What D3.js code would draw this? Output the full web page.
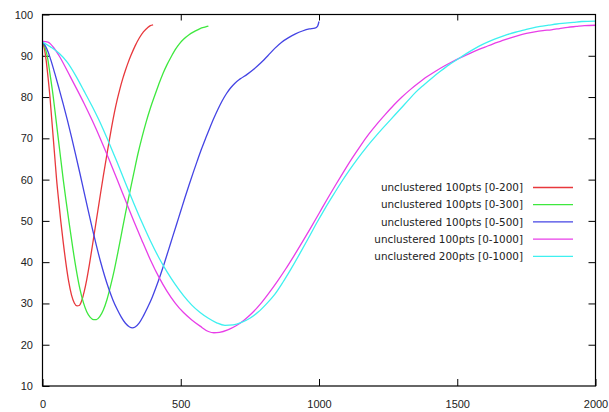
<!DOCTYPE html>
<html>
<head>
<meta charset="utf-8">
<script src="https://cdn.jsdelivr.net/npm/d3@7"></script>
<style>
  body { margin: 0; background: #fff; }
  svg { display: block; font-family: "DejaVu Sans", sans-serif; }
  .axis text { font-size: 11px; fill: #222; }
  .axis line { stroke: #000; }
  .legend text { font-size: 10.4px; fill: #222; }
</style>
</head>
<body>
<div id="chart"></div>
<script>
// series as [x, y]
const red = [[0,93.3],[6,92],[13,89],[20,84.8],[27,80],[33,75],[39,70],[45,65],[51,60],[58,55.2],[66,50],[75,44.8],[85,39.6],[95,35.2],[105,32],[115,30.1],[125,29.4],[133,29.5],[142,30.7],[151,32.9],[160,35.8],[170,39.6],[180,43.8],[190,48.1],[200,52.4],[210,56.7],[220,60.9],[230,64.9],[240,68.9],[250,72.7],[260,76.2],[270,79.3],[280,82],[290,84.4],[300,86.5],[310,88.4],[320,90.1],[335,92.4],[350,94.3],[365,95.8],[380,96.8],[390,97.3],[400,97.5]];
const green = [[0,93.3],[8,92.2],[17,90],[28,85.2],[39,80],[48,75],[57,70],[66,65],[75,60],[86,54.5],[97,49.2],[110,43.2],[122,38.2],[135,33.6],[148,30.2],[160,28],[172,26.7],[185,26.1],[195,26.1],[207,26.8],[220,28.4],[233,30.9],[246,34.2],[260,38.2],[273,42.5],[286,47],[300,51.8],[315,56.7],[330,61.5],[345,66.2],[360,70.3],[375,74],[390,77.3],[405,80.2],[420,83],[435,85.6],[450,87.8],[465,89.7],[480,91.5],[495,92.9],[510,94],[530,95.1],[550,95.9],[570,96.6],[590,97],[600,97.2]];
const blue = [[0,93.3],[10,92.4],[20,91],[30,89],[45,85.6],[60,82],[75,78.3],[90,74.4],[105,70.3],[120,66],[135,61.6],[150,57.1],[165,52.6],[180,48.2],[195,44],[210,40.1],[225,36.6],[240,33.5],[255,30.8],[270,28.6],[285,26.7],[300,25.2],[315,24.3],[325,24.1],[335,24.3],[350,25.3],[365,27],[380,29],[395,31.2],[410,33.8],[425,36.6],[440,39.6],[455,42.8],[470,46],[485,49.2],[500,52.4],[515,55.6],[530,58.7],[545,61.7],[560,64.6],[575,67.4],[590,70],[605,72.5],[620,74.9],[635,77.1],[650,79.1],[665,80.8],[680,82.2],[695,83.3],[715,84.4],[740,85.5],[765,86.8],[790,88.3],[815,90],[840,91.8],[865,93.3],[890,94.4],[915,95.3],[940,96],[965,96.5],[985,96.7],[995,97.2],[1000,98.3]];
const magenta = [[0,93.5],[20,93.3],[40,92],[60,90],[80,87.6],[100,85],[125,81.8],[150,78.5],[180,74.3],[210,69.8],[240,65],[270,60],[300,55],[330,50],[360,45.2],[390,40.6],[420,36.5],[450,33],[480,30.1],[510,27.8],[540,26],[570,24.5],[600,23.2],[620,22.9],[640,23],[670,23.6],[700,24.6],[730,26],[760,27.8],[790,30],[820,32.6],[850,35.4],[880,38.4],[910,41.6],[940,44.9],[970,48.3],[1000,51.8],[1030,55.3],[1060,58.7],[1090,62],[1120,65.2],[1150,68.2],[1180,71],[1210,73.5],[1240,75.8],[1270,78],[1300,80],[1330,81.8],[1360,83.4],[1390,84.9],[1420,86.2],[1450,87.4],[1480,88.5],[1510,89.5],[1540,90.4],[1570,91.3],[1600,92.1],[1630,92.9],[1660,93.6],[1690,94.3],[1720,94.9],[1750,95.4],[1780,95.8],[1810,96.1],[1840,96.3],[1870,96.6],[1900,96.9],[1930,97.1],[1960,97.3],[2000,97.4]];
const cyan = [[0,93.3],[30,92.1],[60,90.6],[90,88.4],[120,85.2],[150,81.5],[180,77.7],[210,73.6],[240,69],[270,64.2],[300,59.2],[330,54.3],[360,49.6],[390,45.2],[420,41.2],[450,37.7],[480,34.6],[510,31.9],[540,29.6],[570,27.8],[600,26.4],[630,25.3],[660,24.7],[690,24.8],[720,25.4],[750,26.4],[780,27.9],[810,29.9],[840,32.2],[870,35.2],[900,38.5],[930,42],[960,45.6],[990,49.3],[1020,52.8],[1050,56.1],[1080,59.3],[1110,62.3],[1140,65.1],[1170,67.7],[1200,70.1],[1230,72.4],[1260,74.6],[1290,76.8],[1320,79],[1350,81.2],[1380,83],[1410,84.7],[1440,86.3],[1470,87.8],[1500,89.1],[1530,90.4],[1560,91.6],[1590,92.7],[1620,93.6],[1650,94.4],[1680,95.1],[1710,95.7],[1740,96.2],[1770,96.7],[1800,97.1],[1830,97.4],[1860,97.7],[1890,97.9],[1920,98.1],[1950,98.3],[2000,98.4]];

const seriesNames = [
  'unclustered 100pts [0-200]',
  'unclustered 100pts [0-300]',
  'unclustered 100pts [0-500]',
  'unclustered 100pts [0-1000]',
  'unclustered 200pts [0-1000]'
];
const seriesValues = [red, green, blue, magenta, cyan];
const seriesColors = ['#e8383c', '#3ee83e', '#4444e4', '#e83ee8', '#3ef0f0'];

const xTicks = [0, 500, 1000, 1500, 2000];
const yTicks = [10, 20, 30, 40, 50, 60, 70, 80, 90, 100];

const W = 609, H = 412;
const m = {l: 42.5, r: 595.5, t: 14.5, b: 386};

const svg = d3.select('#chart').append('svg')
  .attr('width', W)
  .attr('height', H);

const x = d3.scaleLinear().domain([0, 2000]).range([m.l, m.r]);
const y = d3.scaleLinear().domain([10, 100]).range([m.b, m.t]);

////////////////////////////////////////////////////////////////////

const axisB = d3.axisBottom(x).tickValues(xTicks).tickFormat(d3.format('d'))
  .tickSize(-7).tickSizeOuter(0).tickPadding(14);
svg.append('g').attr('class', 'axis axis-x')
  .attr('transform', `translate(0,${m.b})`)
  .call(axisB);

const axisT = d3.axisTop(x).tickValues(xTicks.slice(1, -1)).tickSize(-6).tickSizeOuter(0).tickFormat('');
svg.append('g').attr('class', 'axis axis-top')
  .attr('transform', `translate(0,${m.t})`)
  .call(axisT);

const axisL = d3.axisLeft(y).tickValues(yTicks).tickSize(-7).tickSizeOuter(0).tickPadding(9.5);
svg.append('g').attr('class', 'axis axis-y')
  .attr('transform', `translate(${m.l},0)`)
  .call(axisL);

const axisR = d3.axisRight(y).tickValues(yTicks.slice(1, -1)).tickSize(-7).tickSizeOuter(0).tickFormat('');
svg.append('g').attr('class', 'axis axis-right')
  .attr('transform', `translate(${m.r},0)`)
  .call(axisR);

svg.selectAll('.axis .domain').remove();

////////////////////////////////////////////////////////////////////

const line = d3.line()
  .x(d => x(d[0]))
  .y(d => y(d[1]))
  .curve(d3.curveMonotoneX);

svg.append('g').attr('class', 'lines')
  .selectAll('path')
  .data(seriesValues)
  .enter()
  .append('path')
  .attr('d', line)
  .attr('fill', 'none')
  .attr('stroke', (d, i) => seriesColors[i])
  .attr('stroke-width', 1.3);

svg.append('rect')
  .attr('x', m.l)
  .attr('y', m.t)
  .attr('width', m.r - m.l)
  .attr('height', m.b - m.t)
  .attr('fill', 'none')
  .attr('stroke', '#000')
  .attr('stroke-width', 1.2);

////////////////////////////////////////////////////////////////////

const legend = svg.append('g').attr('class', 'legend');
const rows = legend.selectAll('g')
  .data(seriesNames)
  .enter()
  .append('g')
  .attr('transform', (d, i) => `translate(0,${187.5 + i * 17.2})`);

rows.append('text')
  .attr('x', 523)
  .attr('y', 0)
  .attr('dy', '0.35em')
  .attr('text-anchor', 'end')
  .text(d => d);

rows.append('line')
  .attr('x1', 533)
  .attr('x2', 573)
  .attr('y1', 0)
  .attr('y2', 0)
  .attr('stroke', (d, i) => seriesColors[i])
  .attr('stroke-width', 1.3);
</script>
</body>
</html>
